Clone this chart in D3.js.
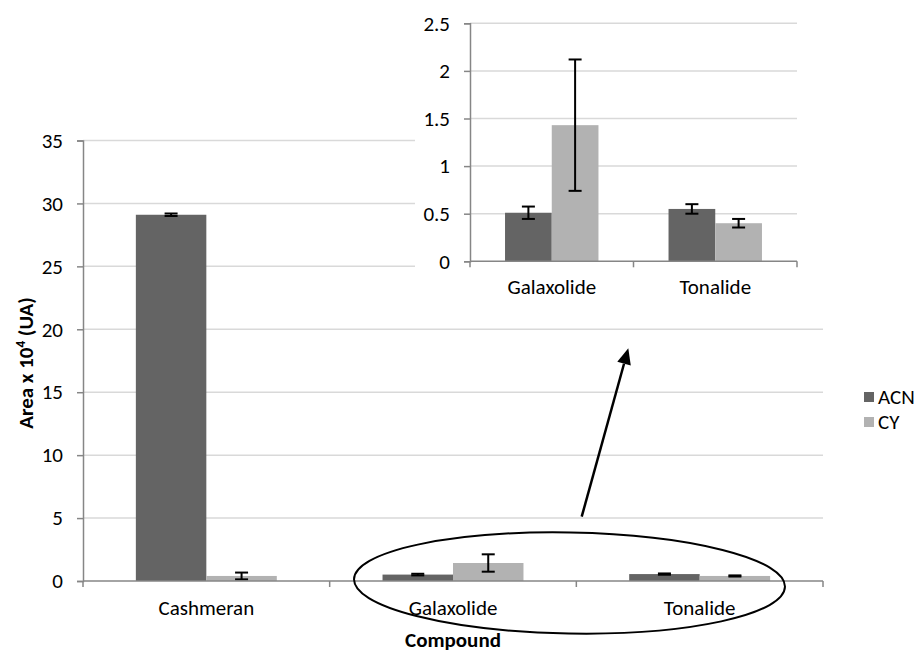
<!DOCTYPE html>
<html>
<head>
<meta charset="utf-8">
<script src="https://cdn.jsdelivr.net/npm/d3@7/dist/d3.min.js"></script>
<style>
  html, body { margin: 0; padding: 0; background: #fff; }
  svg text { font-family: Carlito, Calibri, "Open Sans", sans-serif; fill: #000; }
</style>
</head>
<body>
<svg id="chart" width="919" height="653"></svg>
<script>
// ---------- data ----------
const categories = ["Cashmeran", "Galaxolide", "Tonalide"];
const seriesNames = ["ACN", "CY"];
const acnValues = [29.1, 0.51, 0.55];
const cyValues  = [0.40, 1.43, 0.40];
const acnErrors = [0.10, 0.065, 0.05];
const cyErrors  = [0.27, 0.69, 0.045];
const mainTicks = [0, 5, 10, 15, 20, 25, 30, 35];
const insetCategories = ["Galaxolide", "Tonalide"];
const insetTicks = [0, 0.5, 1, 1.5, 2, 2.5];
const seriesColors = ["#646464", "#b2b2b2"];

const rows = categories.map((c, i) => ({
  cat: c,
  vals: [
    { s: "ACN", v: acnValues[i], e: acnErrors[i] },
    { s: "CY",  v: cyValues[i],  e: cyErrors[i] }
  ]
}));

const FS = 21;
const svg = d3.select("#chart");
svg.append("rect").attr("width", 919).attr("height", 653).attr("fill", "#fff");

const gridColor = "#d9d9d9";
const axisColor = "#868686";
const color = d3.scaleOrdinal(seriesNames, seriesColors);

function drawBarChart(g, cats, data, x0, y, ticks, opts) {
  const groupFrac = 2 / 3.5; // gap width 150%
  const gw = x0.bandwidth() * groupFrac;
  const x1 = d3.scaleBand(seriesNames, [0, gw]);

  // gridlines
  g.append("g").selectAll("line").data(ticks.filter(t => t !== 0)).join("line")
    .attr("x1", x0.range()[0]).attr("x2", x0.range()[1])
    .attr("y1", d => y(d)).attr("y2", d => y(d))
    .attr("stroke", gridColor).attr("stroke-width", 1.5);

  // y axis
  const ya = g.append("g").attr("transform", `translate(${x0.range()[0]},0)`)
    .call(d3.axisLeft(y).tickValues(ticks).tickSize(6).tickPadding(opts.tickPad).tickFormat(d3.format("")));
  ya.select(".domain").attr("stroke", axisColor).attr("stroke-width", 1.5);
  ya.selectAll(".tick line").attr("stroke", axisColor).attr("stroke-width", 1.5);
  ya.selectAll(".tick text").attr("font-size", opts.fontSize).attr("fill", "#000")
    .style("font-family", 'Carlito, Calibri, "Open Sans", sans-serif');

  // bars
  const groups = g.append("g").selectAll("g").data(data).join("g")
    .attr("transform", d => `translate(${x0(d.cat) + (x0.bandwidth() - gw) / 2},0)`);
  groups.selectAll("rect").data(d => d.vals).join("rect")
    .attr("x", d => x1(d.s)).attr("width", x1.bandwidth())
    .attr("y", d => y(d.v)).attr("height", d => y(0) - y(d.v))
    .attr("fill", d => color(d.s));

  // x axis line + ticks at category boundaries
  const y0 = y(0);
  g.append("line").attr("x1", x0.range()[0]).attr("x2", x0.range()[1])
    .attr("y1", y0).attr("y2", y0).attr("stroke", axisColor).attr("stroke-width", 1.5);
  const bounds = cats.map(c => x0(c)).concat([x0.range()[1]]);
  g.append("g").selectAll("line").data(bounds).join("line")
    .attr("x1", d => d).attr("x2", d => d).attr("y1", y0).attr("y2", y0 + 6)
    .attr("stroke", axisColor).attr("stroke-width", 1.5);

  // error bars
  const cap = opts.cap;
  const eb = groups.selectAll("g.eb").data(d => d.vals).join("g").attr("class", "eb")
    .attr("transform", d => `translate(${x1(d.s) + x1.bandwidth() / 2},0)`);
  eb.append("line").attr("x1", 0).attr("x2", 0)
    .attr("y1", d => y(d.v + d.e)).attr("y2", d => y(d.v - d.e))
    .attr("stroke", "#000").attr("stroke-width", 2);
  eb.append("line").attr("x1", -cap / 2).attr("x2", cap / 2)
    .attr("y1", d => y(d.v + d.e)).attr("y2", d => y(d.v + d.e))
    .attr("stroke", "#000").attr("stroke-width", 2);
  eb.append("line").attr("x1", -cap / 2).attr("x2", cap / 2)
    .attr("y1", d => y(d.v - d.e)).attr("y2", d => y(d.v - d.e))
    .attr("stroke", "#000").attr("stroke-width", 2);

  // category labels
  g.append("g").selectAll("text").data(cats).join("text")
    .attr("x", d => x0(d) + x0.bandwidth() / 2).attr("y", opts.labelY)
    .attr("text-anchor", "middle").attr("font-size", opts.fontSize)
    .text(d => d);
}

// ---------- main chart ----------
const xMain = d3.scaleBand(categories, [83, 823]);
const yMain = d3.scaleLinear([0, 35], [581, 140.5]);
const gMain = svg.append("g");
drawBarChart(gMain, categories, rows, xMain, yMain, mainTicks,
  { fontSize: FS, tickPad: 14, cap: 13, labelY: 615 });

// axis titles
svg.append("text")
  .attr("transform", "translate(33,363) rotate(-90)")
  .attr("text-anchor", "middle").attr("font-size", FS).attr("font-weight", "bold")
  .call(t => {
    t.append("tspan").text("Area x 10");
    t.append("tspan").attr("font-size", 13).attr("dy", -8).text("4");
    t.append("tspan").attr("dy", 8).text(" (UA)");
  });
svg.append("text").attr("x", 453).attr("y", 647).attr("text-anchor", "middle")
  .attr("font-size", FS).attr("font-weight", "bold").text("Compound");

// legend
const legend = svg.append("g").attr("transform", "translate(864,397)");
seriesNames.forEach((s, i) => {
  const lg = legend.append("g").attr("transform", `translate(0,${i * 25})`);
  lg.append("rect").attr("x", 0).attr("y", -5).attr("width", 10).attr("height", 10).attr("fill", color(s));
  lg.append("text").attr("x", 14).attr("y", 0).attr("dy", "0.35em").attr("font-size", FS).text(s);
});

// ---------- inset ----------
svg.append("rect").attr("x", 415).attr("y", 0).attr("width", 420).attr("height", 308).attr("fill", "#fff");
const insetRows = rows.filter(r => insetCategories.includes(r.cat));
const xIn = d3.scaleBand(insetCategories, [470, 797]);
const yIn = d3.scaleLinear([0, 2.5], [261.3, 23.3]);
const gIn = svg.append("g");
drawBarChart(gIn, insetCategories, insetRows, xIn, yIn, insetTicks,
  { fontSize: FS, tickPad: 14, cap: 13, labelY: 294 });

// ---------- annotations ----------
svg.append("ellipse").attr("cx", 569.5).attr("cy", 583).attr("rx", 215.5).attr("ry", 50.5)
  .attr("transform", "rotate(1,569.5,583)")
  .attr("fill", "none").attr("stroke", "#000").attr("stroke-width", 2);

const tail = [581.7, 516.7], tip = [628.3, 348.3];
const ang = Math.atan2(tip[1] - tail[1], tip[0] - tail[0]);
const headLen = 16, headW = 7;
const base = [tip[0] - headLen * Math.cos(ang), tip[1] - headLen * Math.sin(ang)];
svg.append("line").attr("x1", tail[0]).attr("y1", tail[1]).attr("x2", base[0]).attr("y2", base[1])
  .attr("stroke", "#000").attr("stroke-width", 2.5);
svg.append("path").attr("d", d3.line()([
  tip,
  [base[0] + headW * Math.sin(ang), base[1] - headW * Math.cos(ang)],
  [base[0] - headW * Math.sin(ang), base[1] + headW * Math.cos(ang)]
])).attr("fill", "#000");
</script>
</body>
</html>
